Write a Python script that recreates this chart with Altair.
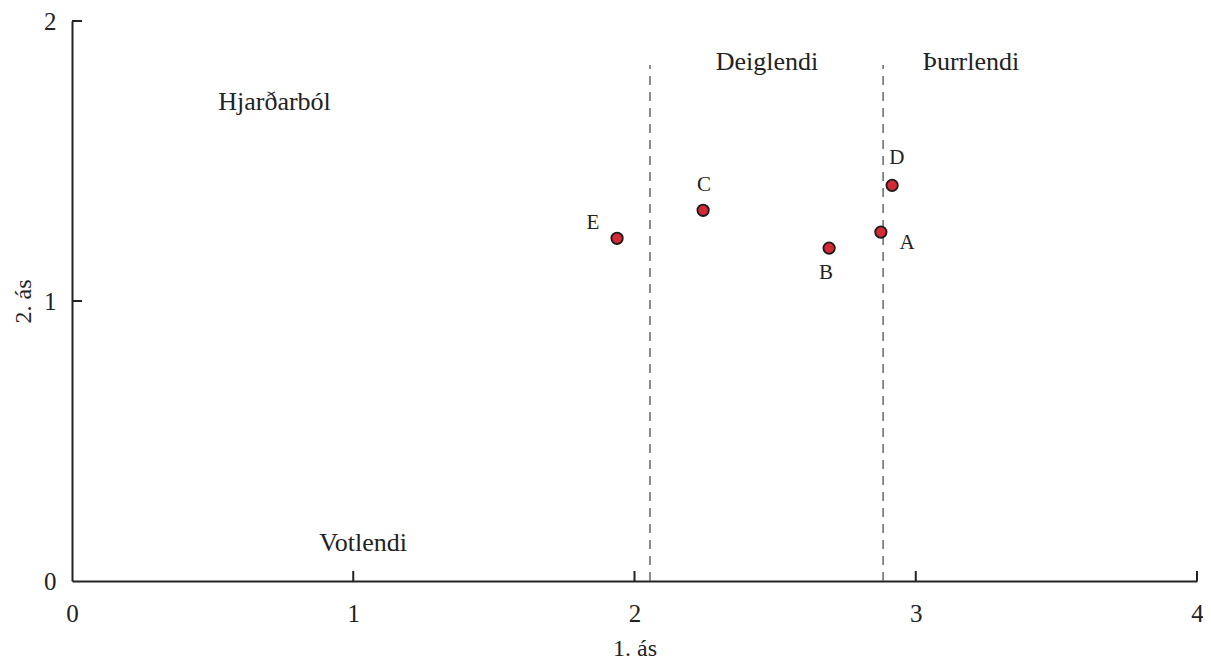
import altair as alt
import pandas as pd

# Sites (points)
site_names = ["A", "B", "C", "D", "E"]
axis1_vals = [2.876, 2.692, 2.244, 2.916, 1.938]
axis2_vals = [1.246, 1.189, 1.324, 1.413, 1.224]
# Point label positions
lab_x = [2.969, 2.681, 2.247, 2.933, 1.852]
lab_y = [1.206, 1.100, 1.413, 1.509, 1.278]

# Zone labels
zone_names = ["Hjarðarból", "Votlendi", "Deiglendi", "Þurrlendi"]
zone_x = [0.72, 1.035, 2.471, 3.196]
zone_y = [1.71, 0.135, 1.854, 1.854]

# Dashed boundaries
bound_x = [2.055, 2.884]
bound_top = 1.843

x_ticks = [0, 1, 2, 3, 4]
y_ticks = [0, 1, 2]

W, H = 1125, 560
FONT = "Liberation Serif"

pts = pd.DataFrame({"site": site_names, "x": axis1_vals, "y": axis2_vals,
                    "lx": lab_x, "ly": lab_y})
zones = pd.DataFrame({"name": zone_names, "x": zone_x, "y": zone_y})
bounds = pd.DataFrame({"x": bound_x, "y0": [0.0] * len(bound_x), "y1": [bound_top] * len(bound_x)})
xt = pd.DataFrame({"v": x_ticks[1:]})
yt = pd.DataFrame({"v": y_ticks[1:]})

xscale = alt.Scale(domain=[0, 4], nice=False, zero=False)
yscale = alt.Scale(domain=[0, 2], nice=False, zero=False)

xaxis = alt.Axis(values=x_ticks, format=".0f", title="1. ás", labelPadding=20, titlePadding=10,
                 labelOverlap=False)
yaxis = alt.Axis(values=y_ticks, format=".0f", title="2. ás", labelPadding=16, titlePadding=8,
                 labelOverlap=False)

base_axes = alt.Chart(pts).mark_point(opacity=0).encode(
    x=alt.X("x:Q", scale=xscale, axis=xaxis),
    y=alt.Y("y:Q", scale=yscale, axis=yaxis),
)

bound_layer = alt.Chart(bounds).mark_rule(color="#666", strokeWidth=1.5, strokeDash=[9, 7]).encode(
    x="x:Q", y="y0:Q", y2="y1:Q"
)

xtick_layer = alt.Chart(xt).mark_rule(color="#222", strokeWidth=2).encode(
    x="v:Q", y=alt.value(H), y2=alt.value(H - 10)
)
ytick_layer = alt.Chart(yt).mark_rule(color="#222", strokeWidth=2).encode(
    y="v:Q", x=alt.value(0), x2=alt.value(10)
)

point_layer = alt.Chart(pts).mark_circle(size=130, opacity=1, color="#d42a35",
                                          stroke="#1a1a1a", strokeWidth=1.8).encode(
    x="x:Q", y="y:Q"
)

plabel_layer = alt.Chart(pts).mark_text(font=FONT, fontSize=21, color="#222").encode(
    x="lx:Q", y="ly:Q", text="site:N"
)

zone_layer = alt.Chart(zones).mark_text(font=FONT, fontSize=26, color="#222").encode(
    x="x:Q", y="y:Q", text="name:N"
)

chart = alt.layer(base_axes, bound_layer, xtick_layer, ytick_layer, point_layer,
                  plabel_layer, zone_layer).properties(
    width=W, height=H,
    autosize=alt.AutoSizeParams(type="none"),
    padding={"left": 64, "top": 13, "right": 6, "bottom": 78},
).configure(background="white", font=FONT).configure_view(stroke=None).configure_axis(
    grid=False, ticks=False, domainColor="#222", domainWidth=2,
    labelFont=FONT, labelFontSize=25, labelColor="#222", labelFlush=False,
    titleFont=FONT, titleFontSize=24, titleFontWeight="normal", titleColor="#222",
)

chart.save("out.html", embed_options={"renderer": "svg", "actions": False})
